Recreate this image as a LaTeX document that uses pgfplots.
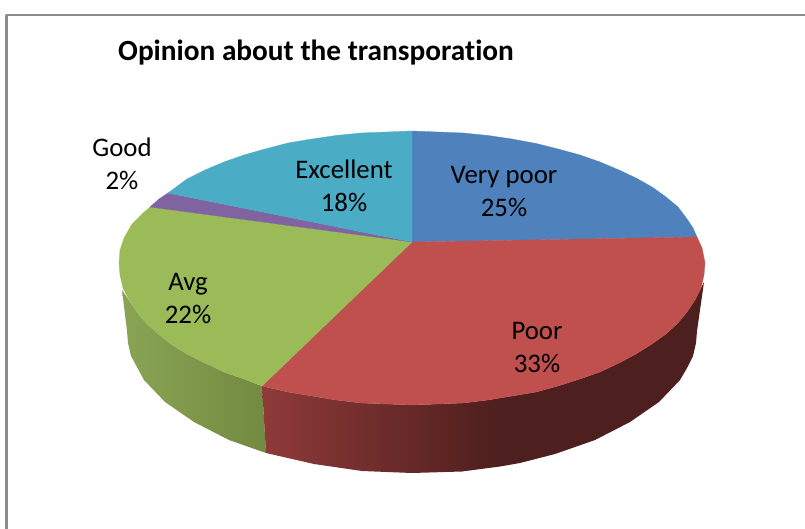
\documentclass[border=0pt]{standalone}
\usepackage{pgfplots}
\pgfplotsset{compat=1.18}
\usepackage{fontspec}
\setmainfont[Ligatures=NoCommon]{Carlito}
\definecolor{cblue}{HTML}{4F81BD}
\definecolor{cred}{HTML}{BF504E}
\definecolor{cgreen}{HTML}{9BBB59}
\definecolor{cpurple}{HTML}{8064A2}
\definecolor{caqua}{HTML}{4BACC6}
\definecolor{frame}{HTML}{8C8C8C}
\definecolor{greenL}{HTML}{8AA454}
\definecolor{greenR}{HTML}{728A41}
\definecolor{redL}{HTML}{8E3A39}
\definecolor{redM}{HTML}{4D1F1E}
\tikzset{lbl/.style={align=center, font=\fontsize{26.8}{32.5}\selectfont, text=black, inner sep=0pt}}
\begin{document}
\begin{tikzpicture}
\begin{axis}[
  width=805pt, height=529pt, scale only axis,
  xmin=0, xmax=805, ymin=0, ymax=529, y dir=reverse,
  axis lines=none, clip=true,
  every axis plot/.append style={line join=round},
]
% page background corners and cropped chart frame
\addplot[draw=none, fill=white] coordinates {(0,0) (805,0) (805,529) (0,529)} -- cycle;
\addplot[draw=frame, line width=2.6pt] coordinates {(6.5,529) (6.5,15) (805,15)};

% side walls, outlines
\addplot[draw=none, left color=greenL, right color=greenR] coordinates {
 (122,290) (136,311) (146,323) (158,334) (172,345) (187,354) (205,363) (224,372) (244,379) (262,386)
 (266,453) (229,440) (194,422) (165,402) (144,380) (131,356) (128,343) (127,331)} -- cycle;
\addplot[draw=none, left color=redL, right color=redM] coordinates {
 (262,386) (288,392) (312,396) (336,400) (361,403) (412,405) (463,403) (488,400) (500,398)
 (500,466.5) (462,471.5) (412,473) (362,471) (314,464) (266,453)} -- cycle;
\addplot[draw=none, fill=redM] coordinates {
 (500,398) (512,396) (536,392) (558,386) (580,379) (600,372)
 (619,363) (636,354) (652,344) (666,334) (678,323) (687,312) (695,300) (701,288) (704,282)
 (697,331) (696,343) (693,356) (687,368) (680,380) (659,402) (630,422) (595,440) (555,454) (520,463) (500,466.5)} -- cycle;

% top faces: 25, 33, 22, 2, 18 per cent
\addplot[draw=cblue, line width=.3pt, fill=cblue] coordinates {
 (412,242) (412,131) (463,133) (488,135.5) (512,139) (536,143.5) (558,149) (580,155) (600,162) (619,170) (636,178) (652,187) (666,197) (678,207) (687,219) (693,228) (697,237)} -- cycle;
\addplot[draw=cred, line width=.3pt, fill=cred] coordinates {
 (412,242) (697,237) (702,248) (705,263) (704,275) (701,288) (695,300) (687,312) (678,323) (666,334) (652,344) (636,354) (619,363)
 (600,372) (580,379) (558,386) (536,392) (512,396) (488,400) (463,403) (412,405) (361,403) (336,400) (312,396) (288,392) (262,386)} -- cycle;
\addplot[draw=cgreen, line width=.3pt, fill=cgreen] coordinates {
 (412,242) (262,386) (244,379) (224,372) (205,363) (187,354) (172,345) (158,334) (146,323) (137,312) (129,300) (123,288) (120,275) (119,263) (120,250) (124,238) (132,224) (141,215) (150,207)} -- cycle;
\addplot[draw=cpurple, line width=.3pt, fill=cpurple] coordinates {
 (412,242) (150,207) (159,199) (168,193)} -- cycle;
\addplot[draw=caqua, line width=.3pt, fill=caqua] coordinates {
 (412,242) (168,193) (187,179) (205,170) (224,162) (244,155) (265,149) (288,143) (312,139) (336,135.5) (361,133) (412,131)} -- cycle;

% text
\node[anchor=west, inner sep=0pt, font=\fontsize{29.3}{34}\selectfont\bfseries] at (axis cs:118,52.5) {Opinion about the transporation};
\node[lbl] at (axis cs:122,163.7) {Good\\2\%};
\node[lbl] at (axis cs:344,185.7) {Excellent\\18\%};
\node[lbl] at (axis cs:504,191.7) {Very poor\\25\%};
\node[lbl] at (axis cs:537,347.7) {Poor\\33\%};
\node[lbl] at (axis cs:188,298.7) {Avg\\22\%};
\end{axis}
\end{tikzpicture}
\end{document}
